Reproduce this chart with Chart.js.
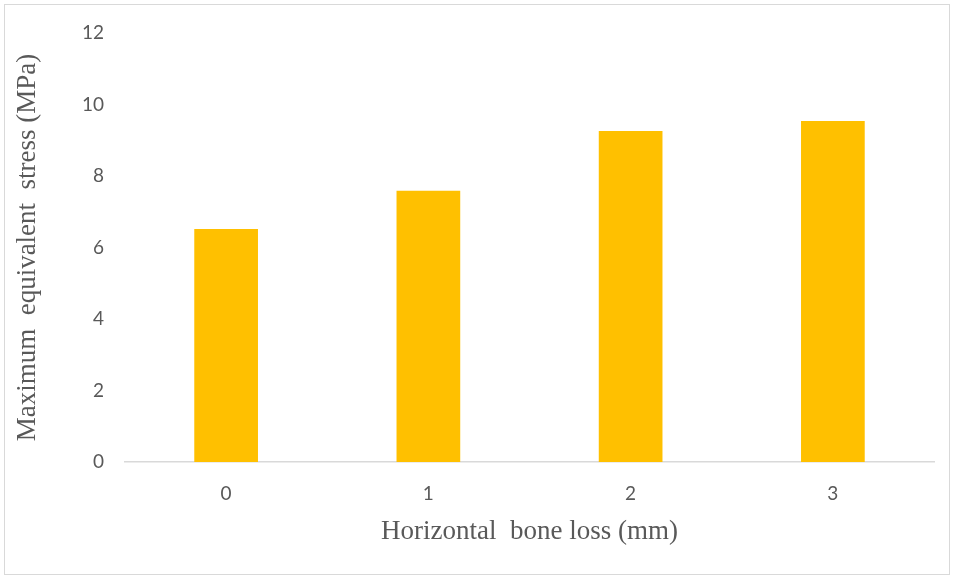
<!DOCTYPE html>
<html>
<head>
<meta charset="utf-8">
<script src="https://cdn.jsdelivr.net/npm/chart.js@4.4.0/dist/chart.umd.min.js"></script>
<style>
  body { margin: 0; background: #fff; }
  #wrap { position: relative; width: 954px; height: 579px; }
</style>
</head>
<body>
<div id="wrap"><canvas id="barChart"></canvas></div>
<script>
const categories = ['0', '1', '2', '3'];
const stressValues = [6.52, 7.59, 9.26, 9.54];
const yTicks = [0, 2, 4, 6, 8, 10, 12];

const textGray = '#595959';

// thin grey frame round the whole picture
const framePlugin = {
    id: 'frame',
    beforeDraw(chart) {
        const c = chart.ctx;
        c.save();
        c.fillStyle = '#fff';
        c.fillRect(0, 0, chart.width, chart.height);
        c.strokeStyle = '#d9d9d9';
        c.lineWidth = 1;
        c.strokeRect(4.5, 4.5, chart.width - 9, chart.height - 9);
        c.restore();
    }
};

const ctx = document.getElementById('barChart').getContext('2d');
const barChart = new Chart(ctx, {
    type: 'bar',
    data: {
        labels: categories,
        datasets: [{
            label: 'Maximum equivalent stress',
            data: stressValues,
            backgroundColor: '#FFC000',
            categoryPercentage: 1,
            barPercentage: 0.315
        }]
    },
    options: {
        responsive: true,
        maintainAspectRatio: false,
        animation: false,
        layout: {
            padding: { left: 0, right: 20, top: 33, bottom: 31 }
        },
        plugins: {
            legend: { display: false },
            tooltip: { enabled: false }
        },
        scales: {
            x: {
                grid: { display: false, drawTicks: false },
                border: { display: true, color: '#d9d9d9', width: 1.5 },
                ticks: {
                    color: textGray,
                    padding: 20,
                    font: { family: 'Lato', size: 19 }
                },
                title: {
                    display: true,
                    text: 'Horizontal  bone loss (mm)',
                    color: textGray,
                    padding: { top: 10, bottom: 0 },
                    font: { family: 'Liberation Serif', size: 27 }
                },
                afterFit(scale) { scale.height = 86; }
            },
            y: {
                min: 0,
                max: 12,
                afterBuildTicks(scale) {
                    scale.ticks = yTicks.map(v => ({ value: v }));
                },
                grid: { display: false, drawTicks: false },
                border: { display: false },
                ticks: {
                    color: textGray,
                    padding: 21,
                    font: { family: 'Lato', size: 19 }
                },
                title: {
                    display: true,
                    text: 'Maximum  equivalent  stress (MPa)',
                    color: textGray,
                    padding: { top: 12, bottom: 0 },
                    font: { family: 'Liberation Serif', size: 27 }
                },
                afterFit(scale) { scale.width = 125; }
            }
        }
    },
    plugins: [framePlugin]
});
</script>
</body>
</html>
